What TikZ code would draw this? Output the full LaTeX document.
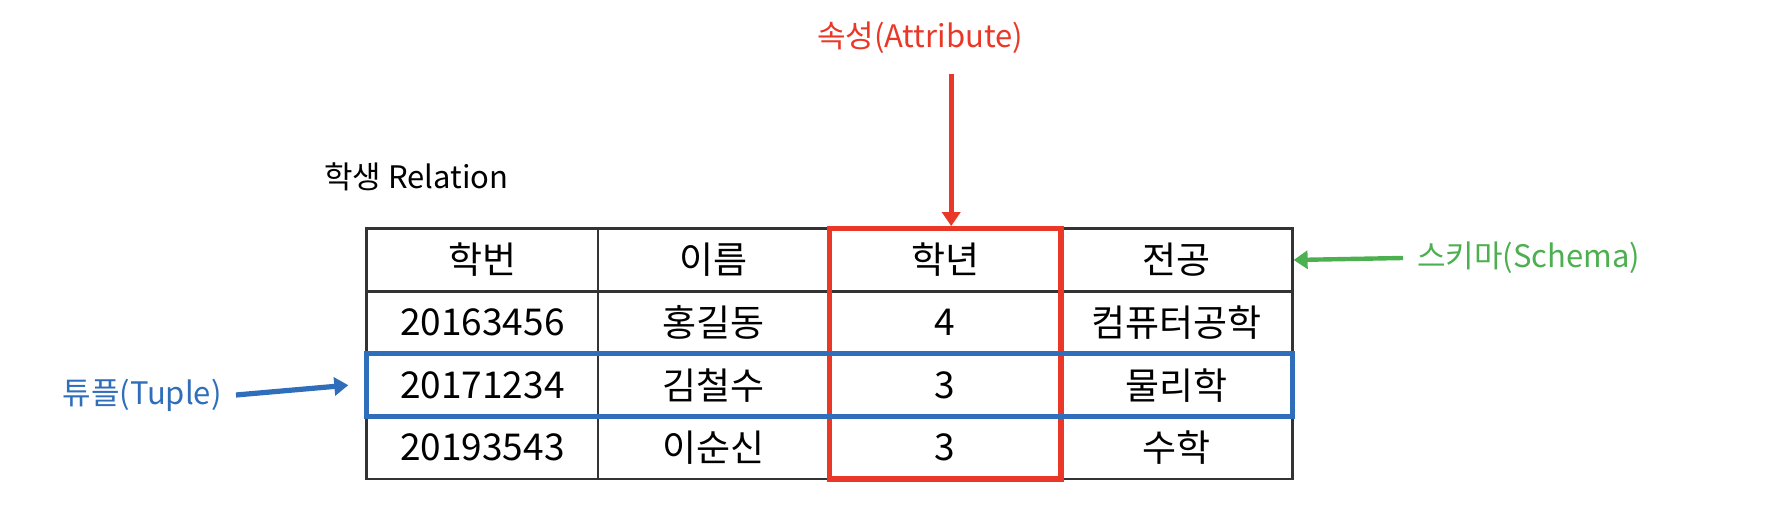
\documentclass[tikz,border=0pt]{standalone}
\usepackage{fontspec}
\setmainfont{Noto Sans CJK KR}
\usetikzlibrary{matrix,fit,arrows.meta}
\definecolor{attrred}{RGB}{234,56,40}
\definecolor{tupleblue}{RGB}{47,110,186}
\definecolor{schemagreen}{RGB}{76,175,80}
\definecolor{gridgray}{RGB}{51,51,51}
\begin{document}
\begin{tikzpicture}[x=0.5pt,y=-0.5pt,
    cell/.style={draw=gridgray,line width=1.3pt,anchor=center,minimum width=115.7pt,minimum height=31.3pt,inner sep=0pt,font=\fontsize{18.5}{22}\selectfont},
    lbl/.style={font=\fontsize{15.5}{18}\selectfont,inner sep=7pt},
    arr/.style={line width=2.6pt,-{Triangle[length=7pt,width=9pt]}}]
  \useasboundingbox (0,0) rectangle (1770,512);
  \node[lbl,anchor=west,inner sep=0pt] (title) at (324,177) {학생 Relation};
  \matrix (tbl) [matrix of nodes,nodes={cell},column sep=-1.3pt,row sep=-1.3pt,anchor=north west,inner sep=0pt] at (365,227) {
    학번 & 이름 & 학년 & 전공\\
    20163456 & 홍길동 & 4 & 컴퓨터공학\\
    20171234 & 김철수 & 3 & 물리학\\
    20193543 & 이순신 & 3 & 수학\\
  };
  \node[draw=attrred,line width=2.6pt,inner sep=-0.65pt,fit=(tbl-1-3)(tbl-4-3)] (colbox) {};
  \node[draw=tupleblue,line width=2.4pt,inner sep=-0.65pt,fit=(tbl-3-1)(tbl-3-4)] (rowbox) {};
  \node[lbl,text=attrred,inner sep=10pt] (attr) at (920,38) {속성(Attribute)};
  \node[lbl,text=schemagreen,anchor=west] (schema) at (1403,258) {스키마(Schema)};
  \node[lbl,text=tupleblue,anchor=east] (tuple) at (236,395) {튜플(Tuple)};
  \draw[arr,attrred] ([xshift=3pt]attr.south -| colbox.north) -- ([xshift=3pt]colbox.north);
  \draw[arr,schemagreen,line width=2.2pt] (schema.west) -- (tbl-1-4.east);
  \draw[arr,tupleblue] (tuple.east) -- ([xshift=-8pt]rowbox.west);
\end{tikzpicture}
\end{document}
